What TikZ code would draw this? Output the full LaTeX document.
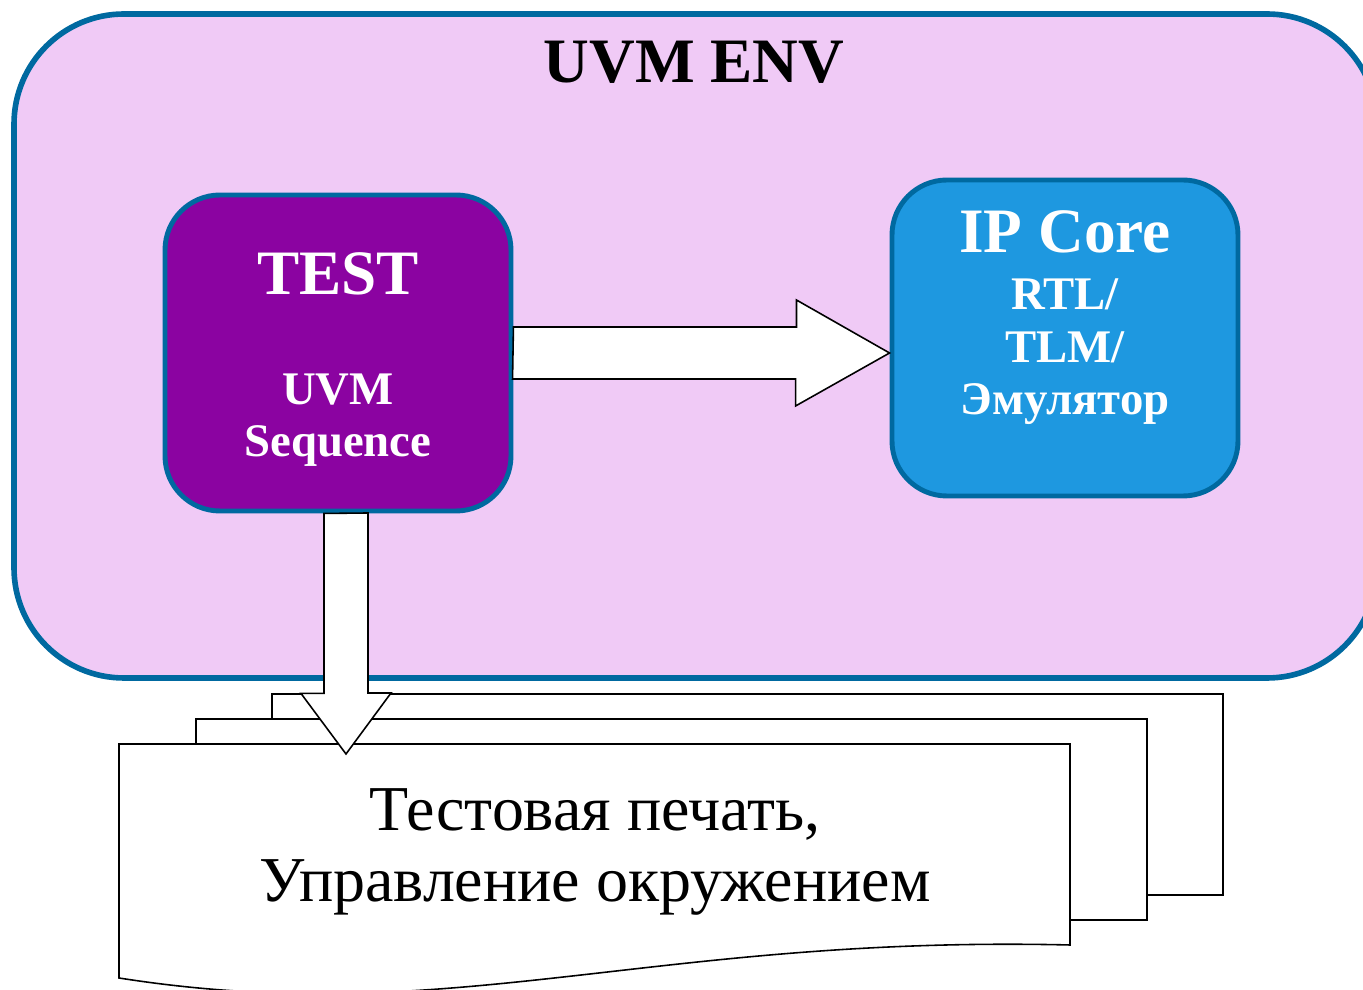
\documentclass[tikz,border=0pt]{standalone}
\usepackage{fontspec}
\setmainfont{Liberation Serif}
\usepackage{tikz}
\usetikzlibrary{positioning,calc}
\definecolor{cEnvFill}{RGB}{240,202,246}
\definecolor{cEdge}{RGB}{0,105,160}
\definecolor{cTest}{RGB}{139,3,161}
\definecolor{cCore}{RGB}{30,152,224}
\tikzset{
  every picture/.style={line width=0.45pt},
  sEnv/.style={draw=cEdge, fill=cEnvFill, line width=1.6pt, rounded corners=1.1cm,
               minimum width=13.63cm, minimum height=6.64cm, inner sep=0pt},
  sBox/.style={draw=cEdge, line width=1.4pt, rounded corners=0.55cm,
               minimum width=3.46cm, minimum height=3.16cm, inner sep=0pt},
  sArrow/.style={draw=black, fill=white, line join=miter},
  sDoc/.style={draw=black, fill=white},
  sTitle/.style={font=\fontsize{18}{20}\selectfont\bfseries, anchor=base, inner sep=0pt},
  sSub/.style={font=\fontsize{13.3}{15}\selectfont\bfseries, text=white, anchor=base, inner sep=0pt},
  sNote/.style={font=\fontsize{18.2}{21}\selectfont, anchor=base, inner sep=0pt},
}

\begin{document}
\begin{tikzpicture}[x=0.1mm, y=-0.1mm]
\useasboundingbox (0,0) rectangle (1363,990);
\clip (0,0) rectangle (1363,990);
% environment
\node[sEnv] (env) at (695.5,346) {};
\node[sTitle] (envT) at (694,83) {UVM ENV};
% test and core blocks
\node[sBox, fill=cTest] (test) at (338,353) {};
\node[sBox, fill=cCore] (core) at (1065,338) {};
\node[sTitle, text=white] (testT) at (338,295) {TEST};
\node[sSub] (testS1) at (338,405) {UVM};
\node[sSub] (testS2) at (338,457) {Sequence};
\node[sTitle, text=white] (coreT) at (1065,253) {IP Core};
\node[sSub] (coreS1) at (1065,310) {RTL/};
\node[sSub] (coreS2) at (1065,363) {TLM/};
\node[sSub] (coreS3) at (1065,415) {Эмулятор};
% stacked documents
\node[sDoc, minimum width=9.51cm, minimum height=2.01cm, inner sep=0pt] (doc3) at (747.5,794.5) {};
\node[sDoc, minimum width=9.51cm, minimum height=2.01cm, inner sep=0pt] (doc2) at (671.5,819.5) {};
\draw[sDoc] (119,744) -- (1070,744) -- (1070,945)
  .. controls (650,935) and (450,1030) .. (119,978) -- cycle;
\coordinate (dtip) at (346,754);
\node[sNote] (note1) at (595,831) {Тестовая печать,};
\node[sNote] (note2) at (595,902) {Управление окружением};
% block arrows
\draw[sArrow] ($(test.east)+(0,-26)$) -- ++(283,0) -- ++(0,-27)
  -- (core.west |- test.east) -- ++(-94,53) -- ++(0,-27) -- ++(-283,0) -- cycle;
\draw[sArrow] ($(test.south)+(-14,0)$) -- ++(0,180) -- ++(-23,0)
  -- (dtip) -- ++(45,-61) -- ++(-23,0) -- ++(0,-180) -- cycle;
\end{tikzpicture}
\end{document}
